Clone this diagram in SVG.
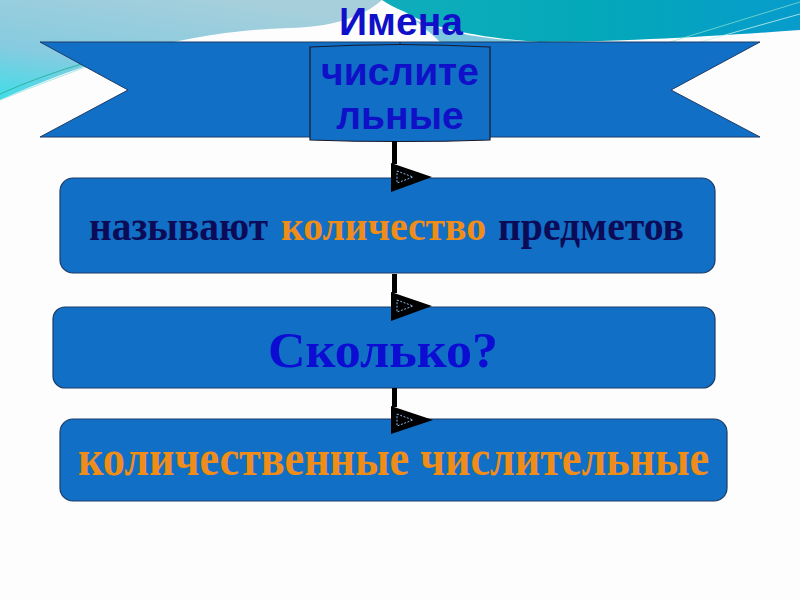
<svg xmlns="http://www.w3.org/2000/svg" width="800" height="600" viewBox="0 0 800 600">
<defs>
<linearGradient id="gl" x1="0.6" y1="0" x2="0" y2="1">
<stop offset="0" stop-color="#a6cfdb"/>
<stop offset="0.6" stop-color="#86cbe0"/>
<stop offset="1" stop-color="#3fdde8"/>
</linearGradient>
<linearGradient id="gr" x1="0" y1="0" x2="1" y2="0">
<stop offset="0" stop-color="#10aebc"/>
<stop offset="0.5" stop-color="#03a8b8"/>
<stop offset="1" stop-color="#079ccc"/>
</linearGradient>
<style>
.box{fill:#116fc6;stroke:#1d3c68;stroke-width:1.2}
.stem{fill:#000}
.tri{fill:#000}
.inner{fill:none;stroke:#8fb4e0;stroke-width:1;stroke-dasharray:2 1.5}
.sans{font-family:"Liberation Sans",Arial,sans-serif;font-weight:bold;fill:#1010c8;text-anchor:middle}
.serif{font-family:"Liberation Serif","Times New Roman",serif;font-weight:bold}
</style>
</defs>
<rect width="800" height="600" fill="#fdfdfd"/>
<g id="background">
<path d="M0,0 H382 C362,18 330,27 290,28 C200,30 100,55 0,100 Z" fill="url(#gl)"/>
<path d="M0,94 Q40,76 88,62" fill="none" stroke="#2bb4a4" stroke-width="1"/>
<path d="M0,100 Q50,80 110,58" fill="none" stroke="#9adfe0" stroke-width="1" opacity="0.8"/>
<path d="M415,20 C450,34 490,40 540,42 L440,42 C432,34 424,28 415,20 Z" fill="#7cc6de"/>
<path d="M382,0 H800 V30 C720,36 620,42 540,42 C480,38 430,28 405,12 C395,8 388,4 382,0 Z" fill="url(#gr)"/>
<path d="M670,42 L800,2" stroke="#8fe6cf" stroke-width="1" opacity="0.7"/>
<path d="M700,42 L800,14" stroke="#c8f0f0" stroke-width="1" opacity="0.8"/>
</g>
<g id="banner">
<polygon points="40,42 760,42 671,90 760,137 40,137 128,90" fill="#116fc6" stroke="#1d3c68" stroke-width="1"/>
<text class="sans" x="401" y="35" font-size="39">Имена</text>
</g>
<g id="title">
<line x1="400" y1="42" x2="400" y2="46" stroke="#222" stroke-width="1"/>
<path d="M310,47 Q400,42 490,47 L490,140 Q400,143 310,140 Z" fill="#116fc6" stroke="#1a1a2a" stroke-width="1.2"/>
<text class="sans" x="400" y="85" font-size="39">числите</text>
<text class="sans" x="400" y="129" font-size="39">льные</text>
</g>
<g id="node1">
<rect class="box" x="60" y="178" width="655" height="95" rx="13"/>
<text class="serif" y="240" font-size="42"><tspan x="89" textLength="179" lengthAdjust="spacingAndGlyphs" fill="#0b0b58">называют</tspan> <tspan x="281" textLength="205" lengthAdjust="spacingAndGlyphs" fill="#f08d18">количество</tspan> <tspan x="498" textLength="186" lengthAdjust="spacingAndGlyphs" fill="#0b0b58">предметов</tspan></text>
</g>
<g id="node2">
<rect class="box" x="53" y="307" width="662" height="81" rx="12"/>
<text class="serif" x="268" y="367" font-size="51" fill="#0c0cd2" textLength="230" lengthAdjust="spacingAndGlyphs">Сколько?</text>
</g>
<g id="node3">
<rect class="box" x="60" y="419" width="667" height="82" rx="13"/>
<text class="serif" x="78" y="475" font-size="50" fill="#f08d18" textLength="631" lengthAdjust="spacingAndGlyphs">количественные числительные</text>
</g>
<g id="connectors">
<rect class="stem" x="392" y="141" width="5" height="23"/>
<polygon class="tri" points="391,163 432,177 391,192"/>
<polygon class="inner" points="397,171 413,177 397,183"/>
<rect class="stem" x="392" y="274" width="5" height="19"/>
<polygon class="tri" points="391,292 432,306 391,321"/>
<polygon class="inner" points="397,300 413,306 397,312"/>
<rect class="stem" x="392" y="388" width="5" height="19"/>
<polygon class="tri" points="391,406 433,420 391,434"/>
<polygon class="inner" points="397,414 413,420 397,426"/>
</g>
</svg>
